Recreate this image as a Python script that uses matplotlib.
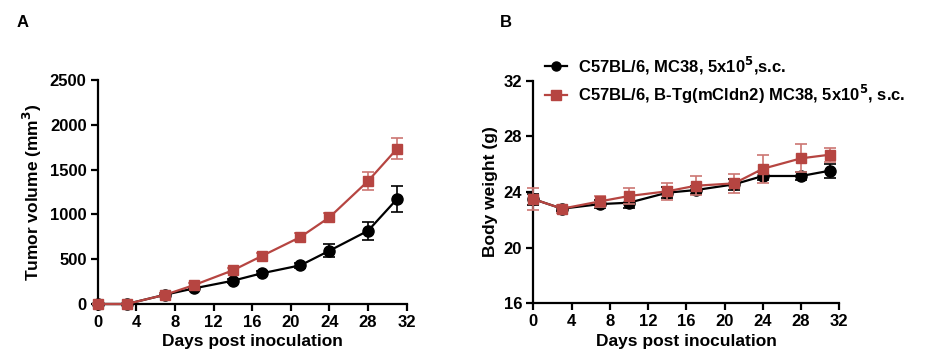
import numpy as np
import matplotlib as mpl
mpl.use('Agg')
import matplotlib.pyplot as plt
from matplotlib.lines import Line2D

plt.rcParams['font.family'] = ['Liberation Sans', 'DejaVu Sans']
plt.rcParams['font.weight'] = 'bold'

days = [0, 3, 7, 10, 14, 17, 21, 24, 28, 31]

# tumor volume (mm3)
vol_wt = [0, 0, 104, 175, 260, 343, 432, 595, 818, 1172]
vol_wt_err = [0, 0, 15, 15, 20, 20, 25, 70, 100, 150]
vol_tg = [0, 0, 104, 212, 376, 536, 748, 968, 1373, 1733]
vol_tg_err = [0, 0, 15, 20, 25, 30, 40, 50, 100, 120]

# body weight (g)
bw_wt = [23.49, 22.8, 23.13, 23.23, 23.95, 24.14, 24.55, 25.15, 25.15, 25.53]
bw_wt_err = [0.4, 0.2, 0.3, 0.4, 0.4, 0.3, 0.4, 0.3, 0.3, 0.5]
bw_tg = [23.49, 22.8, 23.33, 23.71, 24.05, 24.45, 24.62, 25.67, 26.42, 26.68]
bw_tg_err = [0.8, 0.3, 0.4, 0.6, 0.6, 0.7, 0.7, 1.0, 1.0, 0.5]

labels = ["C57BL/6, MC38, 5x10$^{\\mathbf{5}}$,s.c.",
          "C57BL/6, B-Tg(mCldn2) MC38, 5x10$^{\\mathbf{5}}$, s.c."]

black = "#000000"
red = "#B64541"
red_err = "#CC7672"

fig = plt.figure(figsize=(9.25, 3.63), dpi=100)
axA = fig.add_axes([0.1056, 0.1625, 0.3341, 0.6171])
axB = fig.add_axes([0.5766, 0.1645, 0.3308, 0.6132])


def style(ax):
    for s in ['top', 'right']:
        ax.spines[s].set_visible(False)
    for s in ['left', 'bottom']:
        ax.spines[s].set_linewidth(1.6)
    ax.tick_params(width=1.6, length=5, labelsize=12, direction='out', pad=3)
    for t in ax.get_xticklabels() + ax.get_yticklabels():
        t.set_fontweight('bold')
    ax.set_xlim(0, 32)
    ax.set_xticks(range(0, 33, 4))
    ax.set_xlabel("Days post inoculation", fontsize=12.5, fontweight='bold', labelpad=3)


def draw(ax, y1, e1, y2, e2):
    ax.errorbar(days, y1, yerr=e1, color=black, ecolor=black, lw=1.6, elinewidth=1.2,
                capsize=4, capthick=1.2, marker='o', ms=8, clip_on=False, zorder=3)
    ax.errorbar(days, y2, yerr=e2, color=red, ecolor=red_err, lw=1.6, elinewidth=1.2,
                capsize=4, capthick=1.2, marker='s', ms=7.5, clip_on=False, zorder=4)


draw(axA, vol_wt, vol_wt_err, vol_tg, vol_tg_err)
axA.set_ylim(0, 2500)
axA.set_yticks(range(0, 2501, 500))
axA.set_ylabel("Tumor volume (mm$^{\\mathbf{3}}$)", fontsize=12.5, fontweight='bold', labelpad=4)
style(axA)

draw(axB, bw_wt, bw_wt_err, bw_tg, bw_tg_err)
axB.set_ylim(16, 32)
axB.set_yticks(range(16, 33, 4))
axB.set_ylabel("Body weight (g)", fontsize=12.5, fontweight='bold', labelpad=4)
style(axB)

handles = [Line2D([], [], color=black, lw=1.6, marker='o', ms=6.5),
           Line2D([], [], color=red, lw=1.6, marker='s', ms=6.5)]
fig.legend(handles, labels, loc='upper left', bbox_to_anchor=(0.580, 0.873), frameon=False,
           borderpad=0, handlelength=1.3, handletextpad=0.7, labelspacing=0.4,
           prop={'weight': 'bold', 'size': 12})

fig.text(0.018, 0.958, "A", fontsize=12, fontweight='bold', va='top')
fig.text(0.540, 0.958, "B", fontsize=12, fontweight='bold', va='top')

plt.savefig("out.png", dpi=100)
